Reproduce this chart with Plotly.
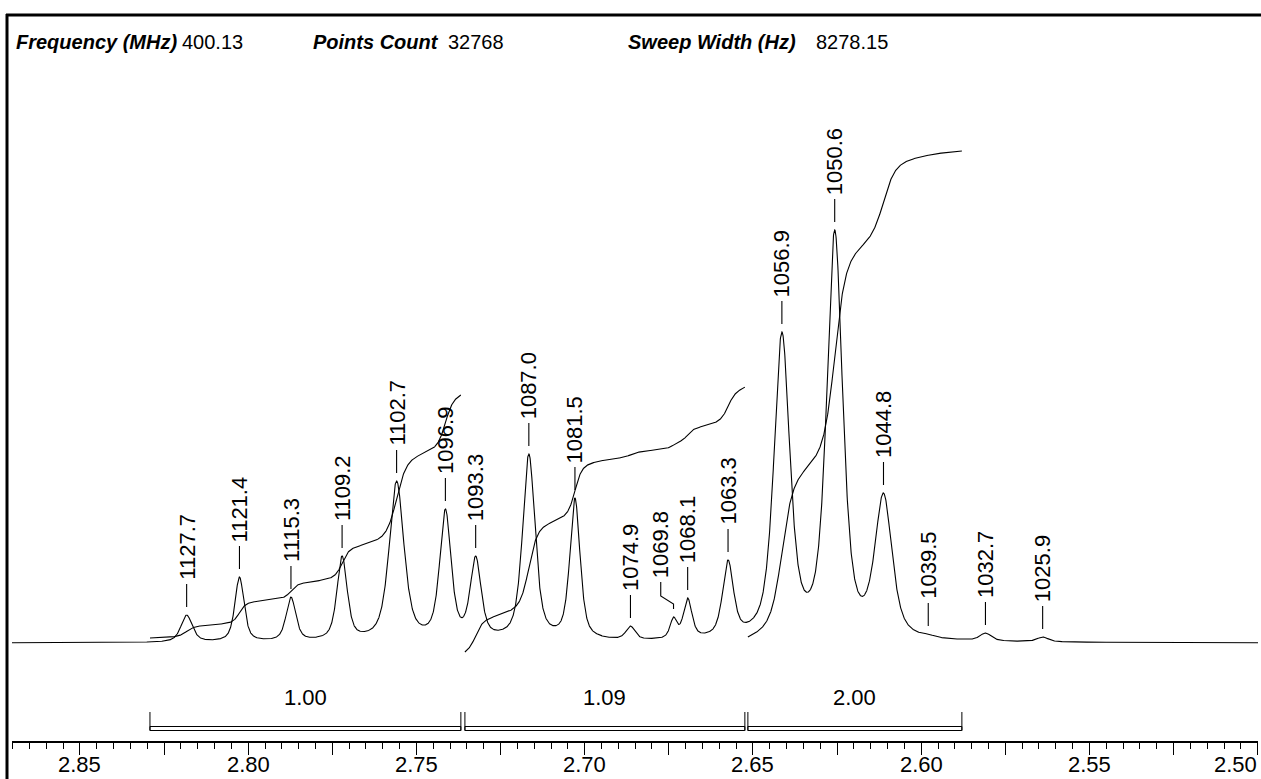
import numpy as np
import plotly.graph_objects as go

# ---------------- data ----------------
header_names = ["Frequency (MHz)", "Points Count", "Sweep Width (Hz)"]
header_values = ["400.13", "32768", "8278.15"]

peak_labels = ["1127.7", "1121.4", "1115.3", "1109.2", "1102.7", "1096.9", "1093.3",
               "1087.0", "1081.5", "1074.9", "1069.8", "1068.1", "1063.3",
               "1056.9", "1050.6", "1044.8", "1039.5", "1032.7", "1025.9"]
peak_ppm = [2.8183, 2.8026, 2.7873, 2.7721, 2.7559, 2.7414, 2.7324,
            2.7166, 2.7029, 2.6864, 2.6736, 2.6694, 2.6574,
            2.6414, 2.6257, 2.6112, 2.5979, 2.5809, 2.5639]
peak_height = [28, 66, 46, 87, 162, 134, 87,
               189, 145, 17, 26, 45, 83,
               311, 413, 150, 9, 10, 6]
peak_hwhm = [0.0020, 0.0016, 0.0017, 0.0018, 0.0026, 0.0020, 0.0019,
             0.0022, 0.0018, 0.0016, 0.0012, 0.0015, 0.0019,
             0.0028, 0.0028, 0.0030, 0.0018, 0.0020, 0.0020]
label_ppm = [2.8183, 2.8026, 2.7873, 2.7721, 2.7559, 2.7414, 2.7324,
             2.7166, 2.7029, 2.6864, 2.6774, 2.6694, 2.6574,
             2.6414, 2.6257, 2.6112, 2.5979, 2.5809, 2.5639]

integral_from = [2.8292, 2.7356, 2.6515]
integral_to = [2.7368, 2.6524, 2.5879]
integral_values = [1.00, 1.09, 2.00]
integral_labels = ["1.00", "1.09", "2.00"]
integral_start = [5, -9, 6]

tick_values = [2.85, 2.80, 2.75, 2.70, 2.65, 2.60, 2.55, 2.50]
tick_labels = ["2.85", "2.80", "2.75", "2.70", "2.65", "2.60", "2.55", "2.50"]

# ---------------- layout geometry ----------------
W, H = 1261, 779
ML, MR, MT, MB = 12, 3, 15, 38
PW = W - ML - MR
PH = H - MT - MB
X_RANGE = [2.8702, 2.4999]
Y_RANGE = [-98, 628]
FONT = "Liberation Sans, Arial, Helvetica, sans-serif"
ETA = 0.6
INT_SCALE = 243


def px(xp):
    return (xp - ML) / PW


def py(yp):
    return (H - MB - yp) / PH


def shape_fn(x, x0, w):
    d2 = ((x - x0) / w) ** 2
    return ETA / (1 + d2) + (1 - ETA) * np.exp(-np.log(2) * d2)


P = np.array(peak_ppm)
Hh = np.array(peak_height, float)
G = np.array(peak_hwhm)
M = shape_fn(P[:, None], P[None, :], G[None, :])
amp = np.clip(np.linalg.solve(M, Hh), 0.3, None)

xs = np.linspace(X_RANGE[0], X_RANGE[1], 6000)
spec = (amp[None, :] * shape_fn(xs[:, None], P[None, :], G[None, :])).sum(axis=1)

fig = go.Figure()
fig.add_trace(go.Scatter(x=xs, y=spec, mode="lines",
                         line=dict(color="black", width=1.1), hoverinfo="skip"))

# integral curves
for a, b, v, s in zip(integral_from, integral_to, integral_values, integral_start):
    xi = np.linspace(a, b, 800)
    yi = (amp[None, :] * shape_fn(xi[:, None], P[None, :], G[None, :])).sum(axis=1)
    cum = np.concatenate([[0], np.cumsum((yi[1:] + yi[:-1]) / 2 * np.abs(np.diff(xi)))])
    cum = cum / cum[-1]
    fig.add_trace(go.Scatter(x=xi, y=s + v * INT_SCALE * cum, mode="lines",
                             line=dict(color="black", width=1.1), hoverinfo="skip"))

# peak label connectors and texts
cx, cy = [], []
annotations = []
for lab, p, lp, h in zip(peak_labels, peak_ppm, label_ppm, peak_height):
    yb = h + 8
    if abs(lp - p) < 1e-9:
        cx += [p, p, None]
        cy += [yb, yb + 23, None]
        ty = yb + 26
    else:
        cx += [p, p, lp, lp, None]
        cy += [yb, yb + 5, yb + 13, yb + 27, None]
        ty = yb + 30
    annotations.append(dict(x=lp, y=ty, xref="x", yref="y", text=lab, textangle=-90,
                            showarrow=False, xanchor="center", yanchor="bottom",
                            borderpad=0, font=dict(family=FONT, size=22, color="black")))
fig.add_trace(go.Scatter(x=cx, y=cy, mode="lines",
                         line=dict(color="black", width=1.1), hoverinfo="skip"))

# integral brackets
shapes = []
for a, b, lab in zip(integral_from, integral_to, integral_labels):
    shapes.append(dict(type="rect", xref="x", yref="y", x0=a, x1=b, y0=-83.5, y1=-87.5,
                       line=dict(color="black", width=1)))
    for e in (a, b):
        shapes.append(dict(type="line", xref="x", yref="y", x0=e, x1=e, y0=-69, y1=-87.5,
                           line=dict(color="black", width=1)))
    annotations.append(dict(x=(a + b) / 2, y=-54.5, xref="x", yref="y", text=lab,
                            showarrow=False, xanchor="center", yanchor="middle",
                            font=dict(family=FONT, size=22, color="black")))

# frame lines
shapes.append(dict(type="line", xref="paper", yref="paper", x0=px(7), x1=px(7),
                   y0=py(H + 2), y1=py(14), line=dict(color="black", width=3)))
shapes.append(dict(type="line", xref="paper", yref="paper", x0=px(6), x1=px(W + 2),
                   y0=py(15), y1=py(15), line=dict(color="black", width=3)))

# tick labels
for tv, tl in zip(tick_values, tick_labels):
    annotations.append(dict(x=tv, y=py(765), xref="x", yref="paper", text=tl,
                            showarrow=False, xanchor="right" if tv == min(tick_values) else "center",
                            yanchor="middle", borderpad=0,
                            font=dict(family=FONT, size=22, color="black")))

# header
header_x = [(15, 181), (312, 447), (627, 815)]
for (xn, xv), nm, val in zip(header_x, header_names, header_values):
    annotations.append(dict(x=px(xn), y=py(42), xref="paper", yref="paper",
                            text="<b><i>" + nm + "</i></b>", showarrow=False,
                            xanchor="left", yanchor="middle", borderpad=0,
                            font=dict(family=FONT, size=20, color="black")))
    annotations.append(dict(x=px(xv), y=py(42), xref="paper", yref="paper",
                            text=val, showarrow=False,
                            xanchor="left", yanchor="middle", borderpad=0,
                            font=dict(family=FONT, size=20, color="black")))

major = [round(2.50 + 0.025 * i, 3) for i in range(15)]
fig.update_layout(
    width=W, height=H,
    margin=dict(l=ML, r=MR, t=MT, b=MB, autoexpand=False),
    paper_bgcolor="white", plot_bgcolor="white",
    showlegend=False,
    shapes=shapes, annotations=annotations,
    xaxis=dict(range=X_RANGE, showgrid=False, zeroline=False, showline=True,
               linecolor="black", linewidth=1.5, ticks="outside", ticklen=12,
               tickwidth=1, tickcolor="black", tickmode="array", tickvals=major,
               showticklabels=False,
               minor=dict(dtick=0.005, tick0=2.5, ticks="outside", ticklen=6,
                          tickwidth=1, tickcolor="black", showgrid=False)),
    yaxis=dict(range=Y_RANGE, visible=False, showgrid=False, zeroline=False),
)
fig.write_html("out.html")
